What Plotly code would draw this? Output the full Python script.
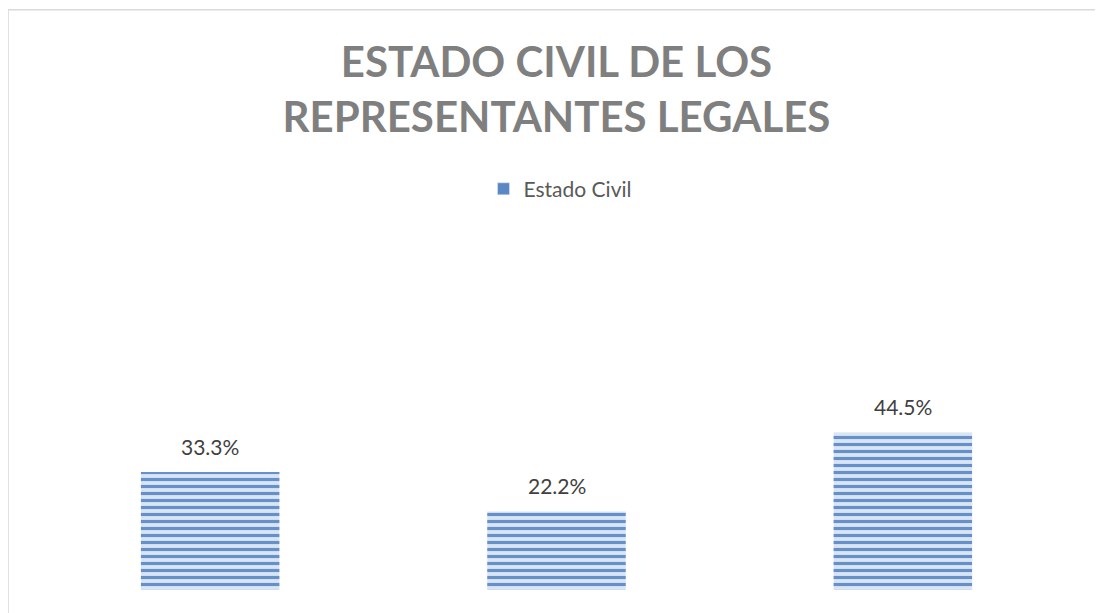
import plotly.graph_objects as go

categorias = ["Casado", "Soltero", "Unión libre"]
valores = [33.3, 22.2, 44.5]
etiquetas = ["33.3%", "22.2%", "44.5%"]
serie = "Estado Civil"
titulo = "ESTADO CIVIL DE LOS<br>REPRESENTANTES LEGALES"

OFF = 8  # page body margin
W, H = 1103, 613
L, R = 36.5 - OFF, 26.5 + OFF
base = 590 - OFF
ph = 50 * 3.55
T, B = base - ph, H - base
pw = W - L - R

FONT = "Lato, Open Sans, sans-serif"

fig = go.Figure()
fig.add_trace(go.Bar(
    x=categorias, y=valores, name=serie, showlegend=False,
    marker=dict(color="#D9E4F2", line=dict(width=0),
                pattern=dict(shape="-", size=7, solidity=0.45, fgopacity=1,
                             fgcolor="#6590CA", bgcolor="#DAE5F2")),
))
fig.add_trace(go.Bar(x=[None], y=[None], name=serie, marker=dict(color="#5B87C5")))

for c, v, t in zip(categorias, valores, etiquetas):
    fig.add_annotation(x=c, y=v, text=t, showarrow=False, yanchor="bottom",
                       yshift=11, font=dict(family=FONT, size=21, color="#404040"))

def px2x(p):
    return (p - OFF - L) / pw

def px2y(p):
    return (H - B - (p - OFF)) / ph

fig.add_shape(type="rect", xref="paper", yref="paper",
              x0=px2x(7.5), x1=px2x(1130), y0=px2y(8), y1=px2y(650),
              line=dict(color="#D9D9D9", width=1.5), fillcolor="rgba(0,0,0,0)", layer="below")

fig.update_layout(
    width=W, height=H,
    margin=dict(l=L, r=R, t=T, b=B, pad=0),
    paper_bgcolor="white", plot_bgcolor="white",
    bargap=0.6,
    title=dict(text=titulo, x=0.5, xanchor="center", xref="paper",
               y=1 - 69 / H, yanchor="middle", yref="container",
               font=dict(family=FONT, size=42, color="#7F7F7F", weight="bold")),
    legend=dict(orientation="h", x=px2x(560), xanchor="center", y=px2y(188), yanchor="middle",
                font=dict(family=FONT, size=21, color="#595959"),
                bgcolor="rgba(0,0,0,0)", itemwidth=30),
    xaxis=dict(showticklabels=False, showgrid=False, zeroline=False, showline=False, ticks=""),
    yaxis=dict(range=[0, 50], visible=False),
    showlegend=True,
)

fig.write_html("out.html")
